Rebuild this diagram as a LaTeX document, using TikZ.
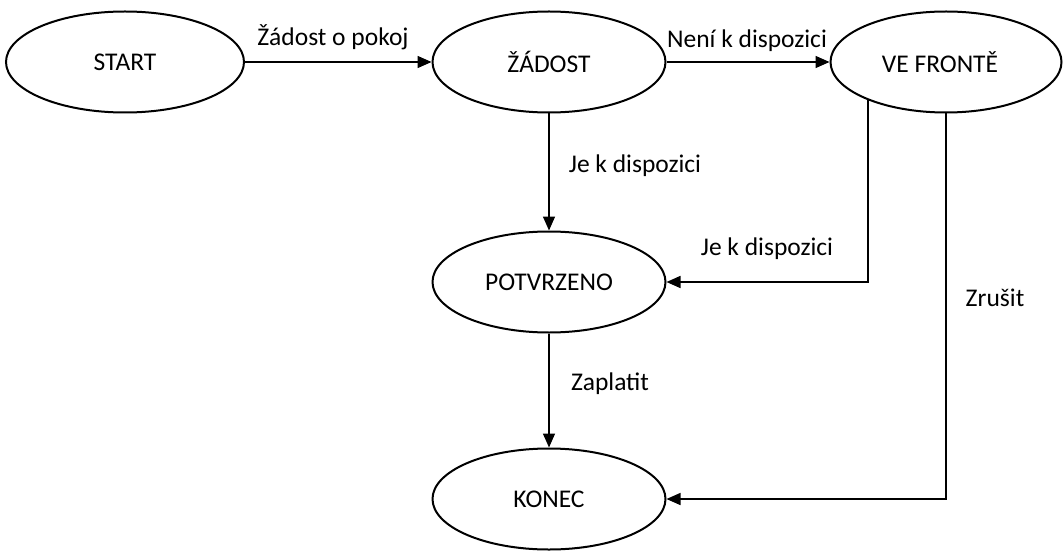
\documentclass[tikz,border=0pt]{standalone}
\usepackage{fontspec}
\setmainfont{Carlito}
\usetikzlibrary{shapes.geometric,arrows.meta}
\begin{document}
\begin{tikzpicture}[x=1pt,y=-1pt,
  state/.style={ellipse,draw,line width=2pt,minimum width=233pt,minimum height=101pt,inner sep=0pt,font=\fontsize{25.5}{30}\selectfont},
  conn/.style={line width=1.5pt,-{Triangle[length=14pt,width=12pt]}},
  lbl/.style={font=\fontsize{25.5}{30}\selectfont,inner sep=0pt}]
\useasboundingbox (0,0) rectangle (1064,556);
\node[state,minimum width=238pt] (start) at (125,62) {START};
\node[state] (zadost) at (549,62) {ŽÁDOST};
\node[state,minimum width=231pt] (fronta) at (946,62) {\hspace*{-12pt}VE FRONTĚ};
\node[state] (potvr) at (549,282) {POTVRZENO};
\node[state] (konec) at (549,499) {KONEC};

\draw[conn] (start.east) -- (zadost.west);
\draw[conn] (zadost.east) -- (fronta.west);
\draw[conn] (zadost.south) -- (potvr.north);
\draw[conn] (potvr.south) -- (konec.north);
\draw[conn] (fronta.206.5) |- (potvr.east);
\draw[conn] (fronta.south) |- (konec.east);

\node[lbl] (l1) at (333,37) {Žádost o pokoj};
\node[lbl] (l2) at (747,41) {Není k dispozici};
\node[lbl] (l3) at (635,166) {Je k dispozici};
\node[lbl] (l4) at (767,249) {Je k dispozici};
\node[lbl] (l5) at (995,298) {Zrušit};
\node[lbl] (l6) at (610,384) {Zaplatit};
\end{tikzpicture}
\end{document}
